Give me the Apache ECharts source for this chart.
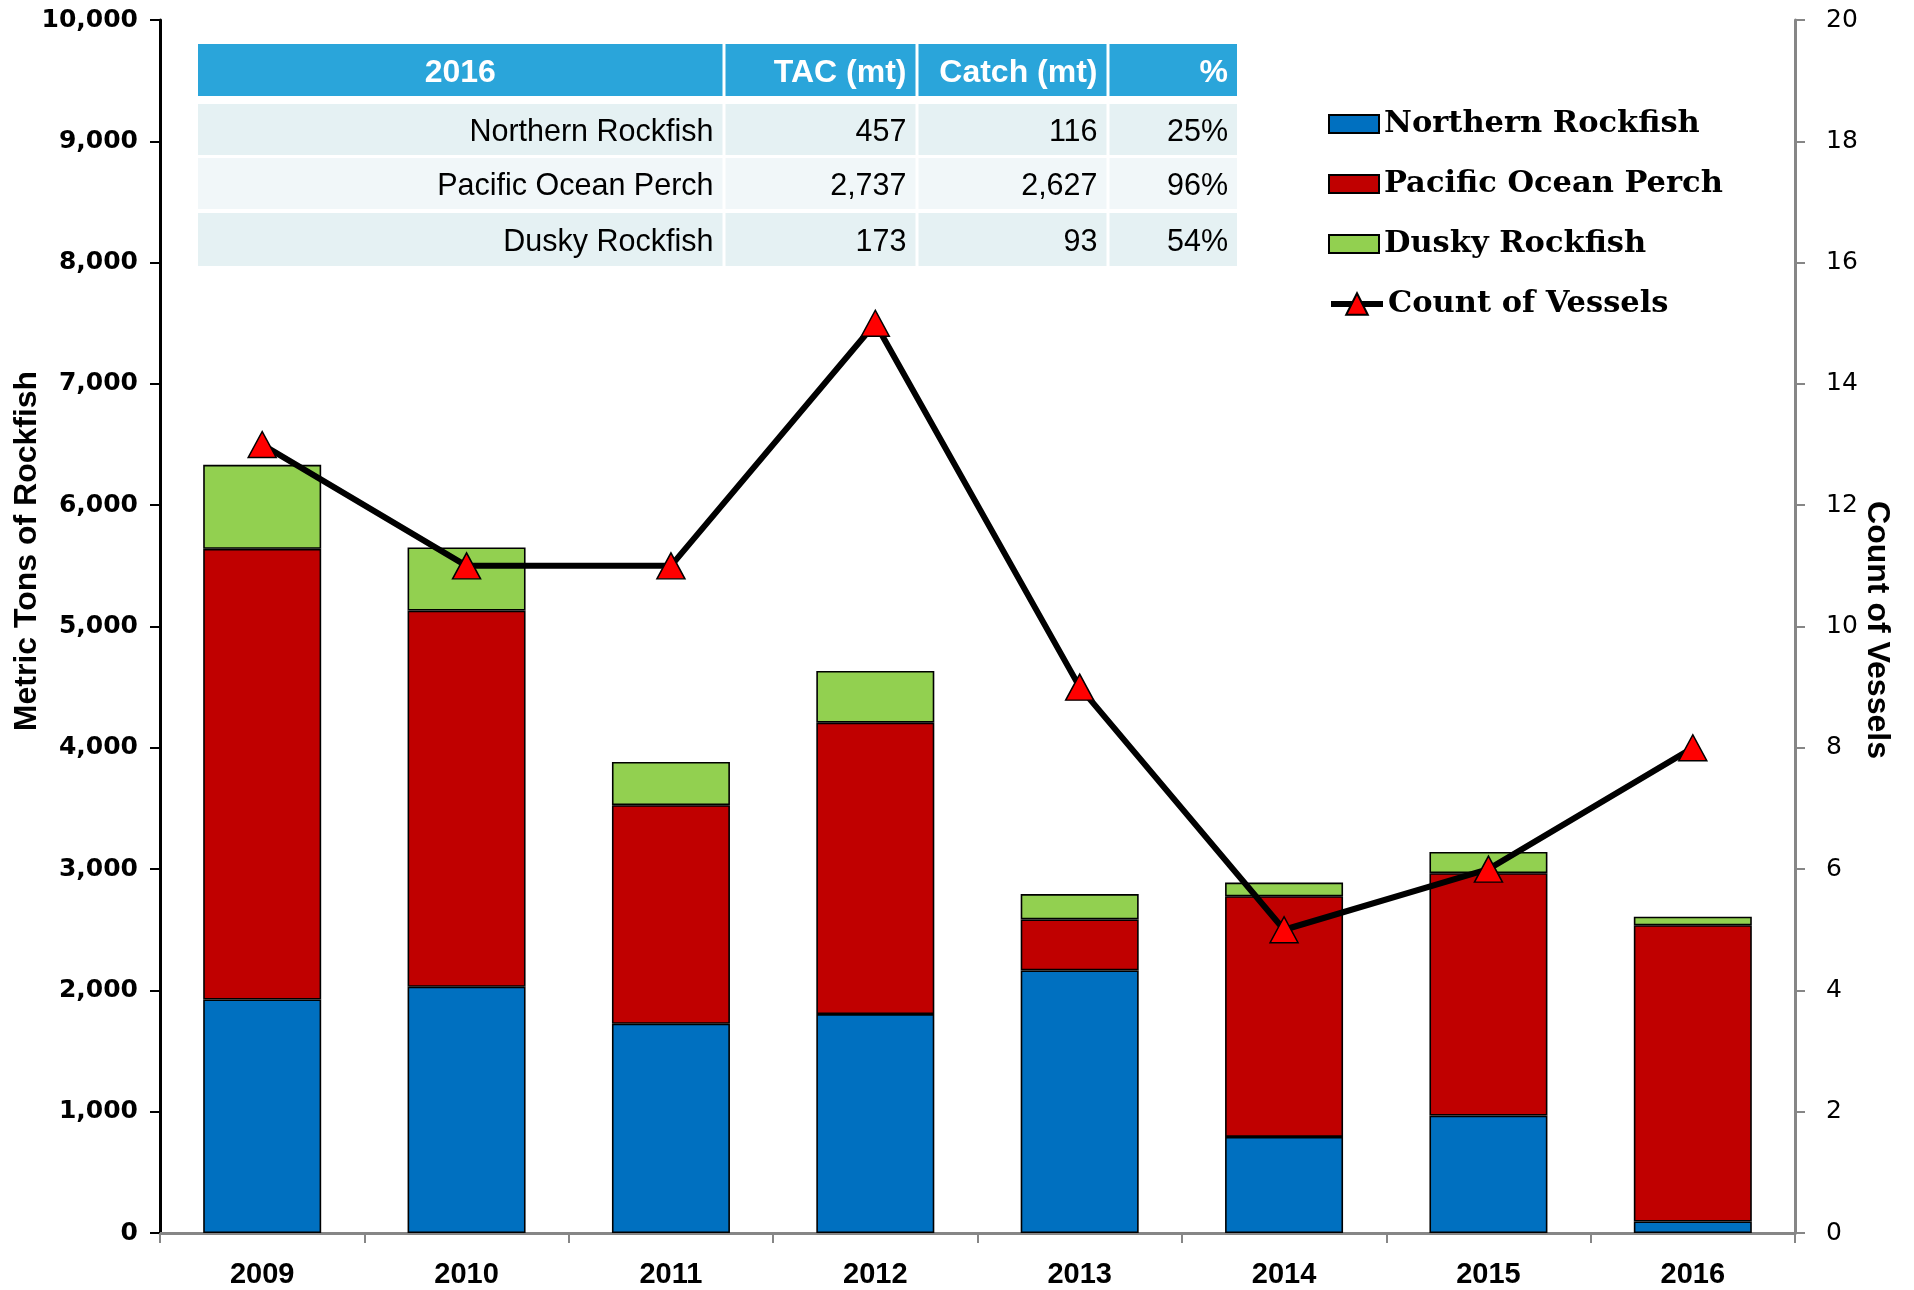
<!DOCTYPE html>
<html>
<head>
<meta charset="utf-8">
<script src="https://cdn.jsdelivr.net/npm/echarts@6/dist/echarts.min.js"></script>
<style>html,body{margin:0;padding:0;background:#fff;}#chart{width:1914px;height:1290px;}</style>
</head>
<body>
<div id="chart"></div>
<script>
const years = ['2009','2010','2011','2012','2013','2014','2015','2016'];
const northernRockfish = [1925, 2030, 1725, 1805, 2165, 792, 968, 95];
const pacificOceanPerch = [3715, 3101, 1802, 2402, 420, 1984, 1998, 2442];
const duskyRockfish = [693, 521, 356, 426, 209, 113, 175, 71];
const countOfVessels = [13, 11, 11, 15, 9, 5, 6, 8];
const leftTicks = {min: 0, max: 10000, interval: 1000};
const rightTicks = {min: 0, max: 20, interval: 2};
const tableHead = ['2016', 'TAC (mt)', 'Catch (mt)', '%'];
const tableRows = [
  ['Northern Rockfish', '457', '116', '25%'],
  ['Pacific Ocean Perch', '2,737', '2,627', '96%'],
  ['Dusky Rockfish', '173', '93', '54%']
];
const leftTitle = 'Metric Tons of Rockfish';
const rightTitle = 'Count of Vessels';

const chart = echarts.init(document.getElementById('chart'), null, {renderer: 'canvas'});

// table graphic
const colEdges = [198, 724, 917, 1108, 1237];
const rowTops = [44, 104, 158, 213];
const rowHeights = [52, 51, 51, 53];
const rowFills = ['#2AA5DA', '#E5F1F3', '#F1F7F9', '#E5F1F3'];
const graphics = [];
const allRows = [tableHead].concat(tableRows);
allRows.forEach((row, r) => {
  row.forEach((txt, c) => {
    const x0 = colEdges[c] + (c === 0 ? 0 : 1.5);
    const x1 = colEdges[c + 1] - (c === 3 ? 0 : 1.5);
    graphics.push({
      type: 'rect', silent: true,
      shape: {x: x0, y: rowTops[r], width: x1 - x0, height: rowHeights[r]},
      style: {fill: rowFills[r]}
    });
    const centered = (r === 0 && c === 0);
    graphics.push({
      type: 'text', silent: true,
      x: centered ? (x0 + x1) / 2 : x1 - 9,
      y: rowTops[r] + rowHeights[r] / 2 + 3,
      style: {
        text: txt,
        fill: r === 0 ? '#FFFFFF' : '#000000',
        font: (r === 0 ? 'bold 32px' : '30.5px') + ' "Liberation Sans", Arial, sans-serif',
        align: centered ? 'center' : 'right',
        verticalAlign: 'middle'
      }
    });
  });
});
graphics.push({
  type: 'text', silent: true, x: 27, y: 551, rotation: Math.PI / 2,
  style: {
    text: leftTitle, fill: '#000', align: 'center', verticalAlign: 'middle',
    font: 'bold 32px "Liberation Sans", Arial, sans-serif'
  }
});
graphics.push({
  type: 'text', silent: true, x: 1877, y: 630, rotation: -Math.PI / 2,
  style: {
    text: rightTitle, fill: '#000', align: 'center', verticalAlign: 'middle',
    font: 'bold 32px "Liberation Sans", Arial, sans-serif'
  }
});

const barBase = {type: 'bar', stack: 'catch', barWidth: 118, yAxisIndex: 0};
const legendText = {fontFamily: '"DejaVu Serif", serif', fontWeight: 'bold', fontSize: 30.5, color: '#000', lineHeight: 38};
const option = {
  animation: false,
  backgroundColor: '#ffffff',
  grid: {left: 160, right: 119, top: 20, bottom: 57, containLabel: false, outerBoundsMode: 'none'},
  legend: [
    {
      orient: 'vertical',
      left: 1323,
      top: 100,
      itemWidth: 50,
      itemHeight: 18,
      itemGap: 22,
      icon: 'rect',
      data: ['Northern Rockfish', 'Pacific Ocean Perch', 'Dusky Rockfish'],
      textStyle: legendText
    },
    {
      orient: 'vertical',
      left: 1323,
      top: 280,
      itemWidth: 52,
      itemHeight: 27,
      data: [{name: 'Count of Vessels', lineStyle: {width: 6}}],
      textStyle: legendText
    }
  ],
  xAxis: {
    type: 'category',
    data: years,
    boundaryGap: true,
    axisLine: {lineStyle: {color: '#868686', width: 3}},
    axisTick: {show: true, length: 10, lineStyle: {color: '#868686', width: 2}},
    axisLabel: {fontFamily: '"Liberation Sans", Arial, sans-serif', fontWeight: 'bold', fontSize: 29, color: '#000', margin: 27}
  },
  yAxis: [
    {
      type: 'value', min: leftTicks.min, max: leftTicks.max, interval: leftTicks.interval,
      axisLine: {show: true, lineStyle: {color: '#000', width: 3}},
      axisTick: {show: true, length: 10, lineStyle: {color: '#000', width: 2}},
      splitLine: {show: false},
      axisLabel: {
        fontFamily: '"DejaVu Sans", sans-serif', fontWeight: 'bold', fontSize: 25, color: '#000', margin: 22,
        formatter: v => v.toLocaleString('en-US')
      }
    },
    {
      type: 'value', min: rightTicks.min, max: rightTicks.max, interval: rightTicks.interval, position: 'right',
      axisLine: {show: true, lineStyle: {color: '#868686', width: 3}},
      axisTick: {show: true, length: 10, lineStyle: {color: '#868686', width: 2}},
      splitLine: {show: false},
      axisLabel: {fontFamily: '"DejaVu Sans", sans-serif', fontSize: 25, color: '#000', margin: 31}
    }
  ],
  series: [
    Object.assign({}, barBase, {name: 'Northern Rockfish', data: northernRockfish,
      itemStyle: {color: '#0070C0', borderColor: '#000', borderWidth: 1.6}}),
    Object.assign({}, barBase, {name: 'Pacific Ocean Perch', data: pacificOceanPerch,
      itemStyle: {color: '#C00000', borderColor: '#000', borderWidth: 1.6}}),
    Object.assign({}, barBase, {name: 'Dusky Rockfish', data: duskyRockfish,
      itemStyle: {color: '#92D050', borderColor: '#000', borderWidth: 1.6}}),
    {
      name: 'Count of Vessels', type: 'line', yAxisIndex: 1, data: countOfVessels, z: 5,
      symbol: 'triangle', symbolSize: [28, 26],
      lineStyle: {color: '#000', width: 6},
      itemStyle: {color: '#FF0000', borderColor: '#000', borderWidth: 1.5}
    }
  ],
  graphic: graphics
};
chart.setOption(option);
</script>
</body>
</html>
